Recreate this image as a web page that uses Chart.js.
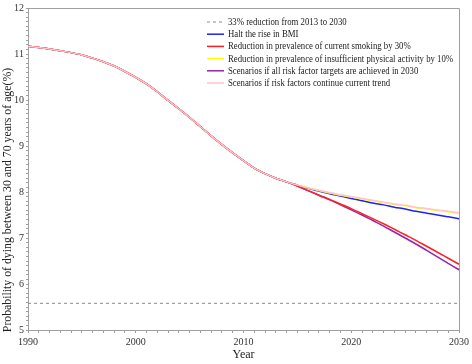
<!DOCTYPE html>
<html>
<head>
<meta charset="utf-8">
<script src="https://cdn.jsdelivr.net/npm/chart.js@4/dist/chart.umd.min.js"></script>
<style>
  body { margin: 0; background: #fff; }
  #wrap { width: 472px; height: 364px; }
</style>
</head>
<body>
<div id="wrap"><canvas id="c" width="472" height="364"></canvas></div>
<script>
// years 1990..2030
const years = [1990,1991,1992,1993,1994,1995,1996,1997,1998,1999,
  2000,2001,2002,2003,2004,2005,2006,2007,2008,2009,
  2010,2011,2012,2013,2014,2015,2016,2017,2018,2019,
  2020,2021,2022,2023,2024,2025,2026,2027,2028,2029,2030];

// shared history 1990-2014
const past = [11.17,11.14,11.11,11.07,11.03,10.98,10.91,10.83,10.74,10.62,
  10.49,10.35,10.18,9.99,9.81,9.62,9.42,9.22,9.03,8.85,
  8.68,8.52,8.40,8.30,8.22];

// scenarios 2015-2030
const bmi      = [8.15,8.08,8.02,7.96,7.91,7.86,7.81,7.76,7.72,7.67,7.63,7.58,7.54,7.50,7.46,7.42];
const smoking  = [8.13,8.03,7.93,7.84,7.74,7.64,7.53,7.42,7.31,7.19,7.07,6.95,6.82,6.69,6.56,6.43];
const activity = [8.15,8.09,8.03,7.98,7.93,7.89,7.85,7.81,7.77,7.73,7.70,7.66,7.63,7.60,7.57,7.53];
const allTargets = [8.13,8.03,7.93,7.83,7.72,7.61,7.50,7.38,7.26,7.13,7.00,6.87,6.73,6.59,6.45,6.31];
const trend    = [8.15,8.09,8.04,7.99,7.94,7.90,7.86,7.82,7.78,7.74,7.71,7.67,7.64,7.61,7.58,7.55];

const target = 5.58; // 33% reduction from 2013

const labels = [
  '33% reduction from 2013 to 2030',
  'Halt the rise in BMI',
  'Reduction in prevalence of current smoking by 30%',
  'Reduction in prevalence of insufficient physical activity by 10%',
  'Scenarios if all risk factor targets are achieved in 2030',
  'Scenarios if risk factors continue current trend'
];
const colors = ['#8a8a8a', '#2222ee', '#ff2020', '#ffff00', '#9922aa', '#ffc4cc'];
const yTitle = 'Probability of dying between 30 and 70 years of age(%)';

function series(tail) {
  return past.concat(tail).map((v, i) => ({ x: years[i], y: v }));
}

const serif = '"Liberation Serif", "DejaVu Serif", serif';

// legend drawn inside the plot area (top right)
const boxLegend = {
  id: 'boxLegend',
  afterDraw(ch) {
    const c = ch.ctx;
    const x0 = 207, y0 = 22, gap = 12.2;
    c.save();
    c.font = '9.5px ' + serif;
    c.textBaseline = 'middle';
    ch.data.datasets.forEach((ds, i) => {
      const y = y0 + i * gap;
      c.strokeStyle = ds.borderColor;
      c.lineWidth = ds.borderWidth;
      c.setLineDash(ds.borderDash || []);
      c.beginPath();
      c.moveTo(x0, y);
      c.lineTo(x0 + 17, y);
      c.stroke();
      c.setLineDash([]);
      c.fillStyle = '#222';
      // text in the reference is a touch narrower than Liberation Serif
      c.save();
      c.translate(x0 + 21, y + 0.5);
      c.scale(0.92, 1);
      c.fillText(ds.label, 0, 0);
      c.restore();
    });
    c.restore();
  }
};

// top/right frame lines and the y axis title (sits a bit below the axis centre)
const frame = {
  id: 'frame',
  beforeDatasetsDraw(ch) {
    const a = ch.chartArea, c = ch.ctx;
    c.save();
    c.strokeStyle = '#a0a0a0';
    c.lineWidth = 1;
    c.beginPath();
    c.moveTo(a.left, a.top + 0.5);
    c.lineTo(a.right + 0.5, a.top + 0.5);
    c.lineTo(a.right + 0.5, a.bottom);
    c.stroke();
    c.translate(8, 200);
    c.rotate(-Math.PI / 2);
    c.font = '11.8px ' + serif;
    c.fillStyle = '#222';
    c.textAlign = 'center';
    c.textBaseline = 'middle';
    c.fillText(yTitle, 0, 0);
    c.restore();
  }
};

new Chart(document.getElementById('c'), {
  type: 'line',
  data: {
    datasets: [
      { label: labels[0], data: years.map(y => ({ x: y, y: target })), borderColor: colors[0], borderWidth: 1, borderDash: [3, 3], order: 5 },
      { label: labels[1], data: series(bmi), borderColor: colors[1], borderWidth: 1.5, order: 4 },
      { label: labels[2], data: series(smoking), borderColor: colors[2], borderWidth: 1.5, order: 1 },
      { label: labels[3], data: series(activity), borderColor: colors[3], borderWidth: 1.5, order: 3 },
      { label: labels[4], data: series(allTargets), borderColor: colors[4], borderWidth: 1.5, order: 2 },
      { label: labels[5], data: series(trend), borderColor: colors[5], borderWidth: 1.5, order: 0 }
    ]
  },
  options: {
    responsive: false,
    animation: false,
    events: [],
    layout: { padding: { top: 3, right: 9, left: 0, bottom: 0 } },
    elements: {
      point: { radius: 0 },
      line: { cubicInterpolationMode: 'monotone', fill: false }
    },
    plugins: { legend: { display: false }, tooltip: { enabled: false } },
    scales: {
      x: {
        type: 'linear',
        min: 1990, max: 2030,
        afterFit: s => { s.height = 34; },
        border: { display: true, color: '#a0a0a0' },
        grid: { drawOnChartArea: false, tickLength: 3, color: '#a0a0a0' },
        ticks: {
          stepSize: 1, autoSkip: false, maxRotation: 0, padding: 3,
          color: '#333', font: { family: serif, size: 10 },
          callback: v => (v % 10 === 0 ? String(v) : '')
        },
        title: { display: true, text: 'Year', color: '#222', font: { family: serif, size: 12 }, padding: { top: 0, bottom: 2 } }
      },
      y: {
        min: 5, max: 12,
        afterFit: s => { s.width = 28; },
        border: { display: true, color: '#a0a0a0' },
        grid: { drawOnChartArea: false, tickLength: 2, color: '#a0a0a0' },
        ticks: {
          stepSize: 0.1, autoSkip: false, maxTicksLimit: 200, padding: 2,
          color: '#333', font: { family: serif, size: 10 },
          callback: v => (Math.abs(v - Math.round(v)) < 1e-6 ? String(Math.round(v)) : '')
        }
      }
    }
  },
  plugins: [frame, boxLegend]
});
</script>
</body>
</html>
